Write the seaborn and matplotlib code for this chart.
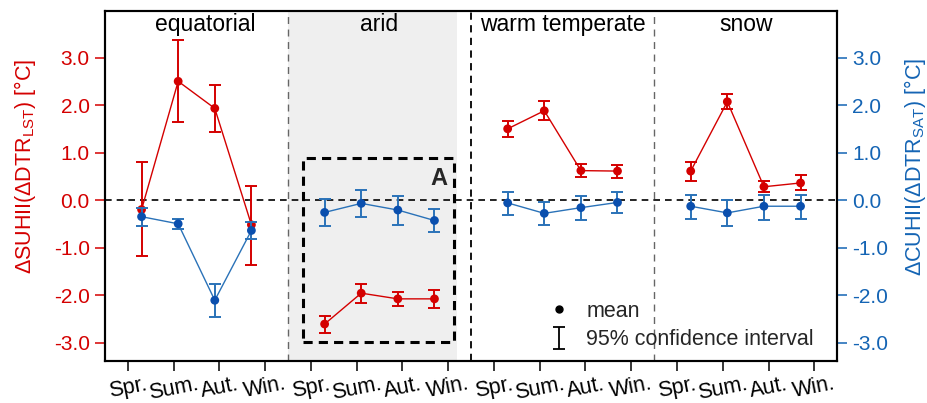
import numpy as np
import pandas as pd
import matplotlib
matplotlib.use("Agg")
import matplotlib.pyplot as plt
import seaborn as sns
from matplotlib.patches import Rectangle
from matplotlib.lines import Line2D
from matplotlib.ticker import FormatStrFormatter

# ---------------- data ----------------
climates = ["equatorial", "arid", "warm temperate", "snow"]
seasons = ["Spr.", "Sum.", "Aut.", "Win."]

suhii_mean = [-0.20, 2.50, 1.93, -0.52,
              -2.61, -1.96, -2.08, -2.08,
              1.50, 1.88, 0.62, 0.61,
              0.61, 2.07, 0.28, 0.36]
suhii_lo = [-1.18, 1.65, 1.43, -1.36,
            -2.80, -2.16, -2.22, -2.27,
            1.33, 1.69, 0.48, 0.47,
            0.40, 1.91, 0.16, 0.21]
suhii_hi = [0.80, 3.36, 2.43, 0.29,
            -2.45, -1.76, -1.94, -1.90,
            1.67, 2.08, 0.76, 0.73,
            0.80, 2.24, 0.40, 0.52]

cuhii_mean = [-0.35, -0.50, -2.11, -0.64,
              -0.26, -0.07, -0.21, -0.43,
              -0.06, -0.28, -0.16, -0.05,
              -0.13, -0.27, -0.13, -0.13]
cuhii_lo = [-0.55, -0.61, -2.46, -0.83,
            -0.55, -0.36, -0.52, -0.68,
            -0.31, -0.52, -0.41, -0.28,
            -0.40, -0.54, -0.41, -0.39]
cuhii_hi = [-0.16, -0.39, -1.77, -0.46,
            0.03, 0.21, 0.08, -0.18,
            0.16, -0.05, 0.08, 0.16,
            0.10, 0.01, 0.10, 0.10]

yticks = [-3.0, -2.0, -1.0, 0.0, 1.0, 2.0, 3.0]

RED = "#d40000"
BLUE_DOT = "#0a4fae"
BLUE = "#2a72b8"
BLUE_TXT = "#1464b4"

# ------------- table -------------
rows = []
for k, c in enumerate(climates):
    for j, s in enumerate(seasons):
        i = 4 * k + j
        rows.append(dict(climate=c, season=s, pos=5 * k + j + 1,
                         s_mean=suhii_mean[i], s_lo=suhii_lo[i], s_hi=suhii_hi[i],
                         c_mean=cuhii_mean[i], c_lo=cuhii_lo[i], c_hi=cuhii_hi[i]))
df = pd.DataFrame(rows)

sns.set_style("white")
plt.rcParams["font.family"] = ["Liberation Sans", "DejaVu Sans"]
plt.rcParams["mathtext.default"] = "regular"
plt.rcParams["axes.unicode_minus"] = False

fig = plt.figure(figsize=(9.28, 4.03), dpi=100)
ax = fig.add_axes([0.1131, 0.104, 0.789, 0.8687])
ax2 = ax.twinx()

ylim = (-3.39, 3.98)
ax.set_xlim(0, 20)
ax.set_ylim(*ylim)
ax2.set_ylim(*ylim)

# arid shading
ax.axvspan(5, 9.62, color="#efefef", zorder=0, lw=0)
# separators
ax.axvline(5, color="0.4", ls=(0, (5, 4)), lw=1.0, zorder=1)
ax.axvline(10, color="k", ls=(0, (4, 3)), lw=1.3, zorder=1)
ax.axvline(15, color="0.4", ls=(0, (5, 4)), lw=1.0, zorder=1)
ax.axhline(0, color="k", ls=(0, (4, 3)), lw=1.2, zorder=1)

# dashed box A
ax.add_patch(Rectangle((5.41, -2.99), 9.54 - 5.41, 0.88 + 2.99, fill=False,
                       ec="k", lw=2.2, ls=(0, (3, 2)), zorder=2))
ax.text(9.12, 0.46, "A", fontsize=17, fontweight="bold", ha="center", va="center")

# SUHII (red)
sns.lineplot(data=df, x="pos", y="s_mean", units="climate", estimator=None,
             color=RED, lw=1.0, ax=ax, legend=False, sort=False, zorder=3)
ax.errorbar(df["pos"], df["s_mean"],
            yerr=[df["s_mean"] - df["s_lo"], df["s_hi"] - df["s_mean"]],
            fmt="none", ecolor=RED, elinewidth=1.4, capsize=4.5, capthick=1.4, zorder=3)
sns.scatterplot(data=df, x="pos", y="s_mean", color=RED, s=40, edgecolor="none",
                ax=ax, legend=False, zorder=4)

# CUHII (blue)
sns.lineplot(data=df, x="pos", y="c_mean", units="climate", estimator=None,
             color=BLUE, lw=1.0, ax=ax2, legend=False, sort=False, zorder=3)
ax2.errorbar(df["pos"], df["c_mean"],
             yerr=[df["c_mean"] - df["c_lo"], df["c_hi"] - df["c_mean"]],
             fmt="none", ecolor=BLUE, elinewidth=1.4, capsize=4.5, capthick=1.4, zorder=3)
sns.scatterplot(data=df, x="pos", y="c_mean", color=BLUE_DOT, s=40, edgecolor="none",
                ax=ax2, legend=False, zorder=4)

# panel titles
title_x = [2.75, 7.5, 12.5, 17.5]
for tx, c in zip(title_x, climates):
    ax.text(tx, 3.55, c, fontsize=16.5, ha="center", va="baseline", color="k")

# x ticks
xt = [5 * k + 0.625 + 1.25 * j for k in range(4) for j in range(4)]
ax.set_xticks(xt)
ax.set_xticklabels(seasons * 4, rotation=11, fontsize=15.5)
ax.tick_params(axis="x", direction="out", length=7, width=1.1, colors="k", bottom=True, pad=2)

# y ticks
ax.set_yticks(yticks)
ax2.set_yticks(yticks)
ax.yaxis.set_major_formatter(FormatStrFormatter("%.1f"))
ax2.yaxis.set_major_formatter(FormatStrFormatter("%.1f"))
ax.tick_params(axis="y", direction="out", length=7, width=1.1, colors=RED, labelsize=15, left=True, pad=4)
ax2.tick_params(axis="y", direction="out", length=7, width=1.1, colors=BLUE_TXT, labelsize=15, right=True, pad=4)

ax.set_xlabel("")
ax.set_ylabel("ΔSUHII(ΔDTR$_{LST}$) [°C]", color=RED, fontsize=15.5)
ax2.set_ylabel("ΔCUHII(ΔDTR$_{SAT}$) [°C]", color=BLUE_TXT, fontsize=15.5)
ax.yaxis.set_label_coords(-0.092, 0.555)
ax2.yaxis.set_label_coords(1.088, 0.555)

for a in (ax, ax2):
    for sp in a.spines.values():
        sp.set_color("k")
        sp.set_linewidth(1.5)
        sp.set_visible(True)

# legend
eb = ax2.errorbar([np.nan], [np.nan], yerr=[[0.2], [0.2]], fmt="none",
                  ecolor="k", elinewidth=1.3, capsize=4.5, capthick=1.3)
mean_h = Line2D([], [], marker="o", ls="none", color="k", markersize=5)
leg = ax2.legend([mean_h, eb], ["mean", "95% confidence interval"], loc="lower right",
                 bbox_to_anchor=(0.995, -0.025), frameon=False, fontsize=15.5,
                 handlelength=1.0, handletextpad=0.8, labelspacing=0.35, borderpad=0.4)

fig.savefig("out.png", dpi=100)
